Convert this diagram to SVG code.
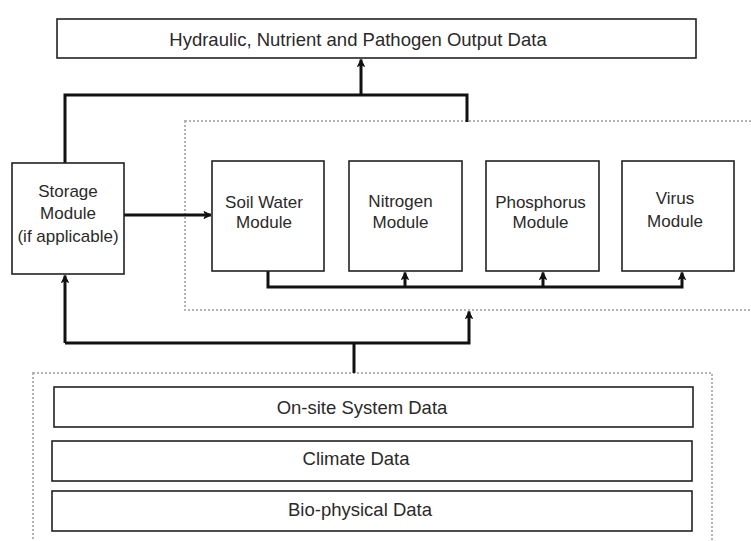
<svg xmlns="http://www.w3.org/2000/svg" width="751" height="541" viewBox="0 0 751 541">
  <style>
    .box { fill: #ffffff; stroke: #222222; stroke-width: 1.6; }
    .group { fill: none; stroke: #b4b4b4; stroke-width: 2; stroke-dasharray: 2 2; }
    .wire { fill: none; stroke: #111111; stroke-width: 3; }
    .lbl { font-family: "Liberation Sans", Arial, sans-serif; fill: #2a2a2a; text-anchor: middle; }
    .big { font-size: 18.5px; }
    .mod { font-size: 17px; }
  </style>
  <defs>
    <marker id="arrow" markerUnits="userSpaceOnUse" markerWidth="10" markerHeight="10" refX="8" refY="5" orient="auto">
      <path d="M1,1.5 L8,5 L1,8.5 L3,5 Z" fill="#111111" stroke="#111111" stroke-width="1"/>
    </marker>
  </defs>

  <rect width="751" height="541" fill="#ffffff"/>

  <!-- dotted grouping frames -->
  <g id="model-group">
    <rect class="group" x="185" y="121" width="580" height="189"/>
  </g>
  <g id="input-group">
    <rect class="group" x="33" y="373" width="679" height="180"/>
  </g>

  <!-- connectors -->
  <g id="connectors">
    <path class="wire" d="M65,163 V95 H467 V122"/>
    <path class="wire" d="M361,95 V59.5" marker-end="url(#arrow)"/>
    <path class="wire" d="M124,215 H211" marker-end="url(#arrow)"/>
    <path class="wire" d="M268,271 V287 H682 V272.5" marker-end="url(#arrow)"/>
    <path class="wire" d="M405,287 V272.5" marker-end="url(#arrow)"/>
    <path class="wire" d="M543,287 V272.5" marker-end="url(#arrow)"/>
    <path class="wire" d="M354,373 V343"/>
    <path class="wire" d="M65,343 H469 V311.5" marker-end="url(#arrow)"/>
    <path class="wire" d="M65,343 V275.5" marker-end="url(#arrow)"/>
  </g>

  <g id="output-data">
    <rect class="box" x="57" y="19" width="639" height="39"/>
    <text class="lbl big" x="358" y="46">Hydraulic, Nutrient and Pathogen Output Data</text>
  </g>

  <g id="storage-module">
    <rect class="box" x="12" y="163" width="112" height="111"/>
    <text class="lbl mod" x="68" y="197">Storage</text>
    <text class="lbl mod" x="68" y="219">Module</text>
    <text class="lbl mod" x="68" y="242">(if applicable)</text>
  </g>

  <g id="soil-water-module">
    <rect class="box" x="212" y="161" width="112" height="110"/>
    <text class="lbl mod" x="264" y="208">Soil Water</text>
    <text class="lbl mod" x="264" y="228">Module</text>
  </g>

  <g id="nitrogen-module">
    <rect class="box" x="349" y="161" width="113" height="110"/>
    <text class="lbl mod" x="400.5" y="207">Nitrogen</text>
    <text class="lbl mod" x="400.5" y="228">Module</text>
  </g>

  <g id="phosphorus-module">
    <rect class="box" x="486" y="161" width="113" height="110"/>
    <text class="lbl mod" x="540.5" y="208">Phosphorus</text>
    <text class="lbl mod" x="540.5" y="228">Module</text>
  </g>

  <g id="virus-module">
    <rect class="box" x="622" y="161" width="112" height="110"/>
    <text class="lbl mod" x="675" y="204">Virus</text>
    <text class="lbl mod" x="675" y="227">Module</text>
  </g>

  <g id="onsite-system-data">
    <rect class="box" x="54" y="387" width="639" height="40"/>
    <text class="lbl big" x="362" y="414">On-site System Data</text>
  </g>

  <g id="climate-data">
    <rect class="box" x="52" y="441" width="640" height="40"/>
    <text class="lbl big" x="356" y="465">Climate Data</text>
  </g>

  <g id="biophysical-data">
    <rect class="box" x="52" y="491" width="640" height="40"/>
    <text class="lbl big" x="360" y="516">Bio-physical Data</text>
  </g>
</svg>
